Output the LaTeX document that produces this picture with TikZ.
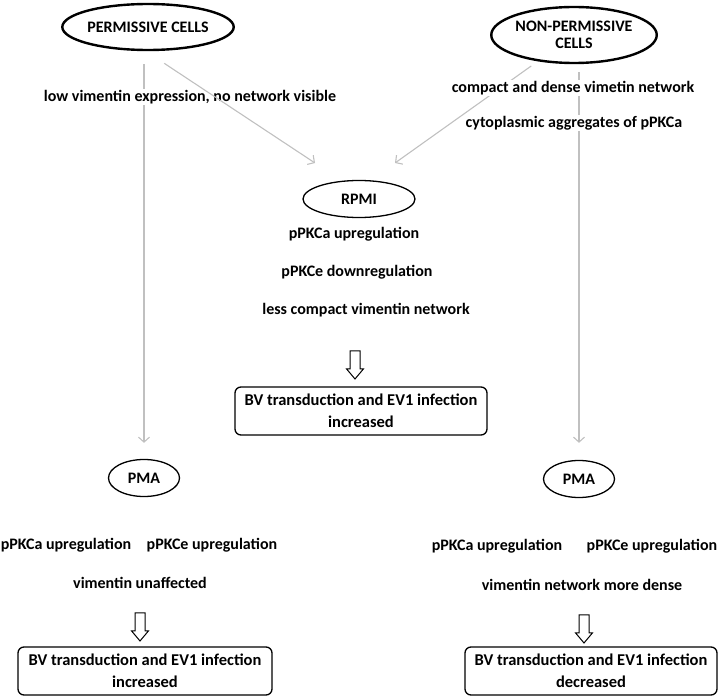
\documentclass[tikz,border=0pt]{standalone}
\usepackage{fontspec}
\setmainfont{Carlito}
\usepackage{tikz}
\usetikzlibrary{
    arrows.meta,
    positioning,
    shapes.geometric,
    shapes.arrows,
    backgrounds
}
\definecolor{lineGray}{RGB}{192,192,192}
\tikzset{
  cell/.style    = {draw, ellipse, line width=2.4pt, align=center,
                    inner sep=0pt, font=\bfseries\fontsize{16}{17}\selectfont},
  treat/.style   = {draw, ellipse, line width=1.3pt, inner sep=0pt,
                    font=\bfseries\fontsize{16}{18}\selectfont},
  txt/.style     = {fill=white, inner sep=1pt,
                    font=\bfseries\fontsize{16}{18}\selectfont},
  result/.style  = {draw, rounded corners=6pt, line width=1.3pt, align=center,
                    minimum height=48pt, inner sep=1pt,
                    font=\bfseries\fontsize{16.5}{22}\selectfont},
  hollow/.style  = {draw, single arrow, shape border rotate=270, line width=1pt,
                    minimum height=28pt, inner sep=4.5pt,
                    single arrow head extend=3.5pt, single arrow tip angle=80},
  arrg/.style    = {-{Straight Barb[length=5pt,width=11pt]}, lineGray, line width=1.1pt}
}

\begin{document}
\begin{tikzpicture}[x=1pt, y=-1pt]
  \useasboundingbox (0,0) rectangle (720,698);

  % ── CELL TYPES ──
  \node[cell, minimum width=170pt, minimum height=46pt] (P_cell) at (148,27) {PERMISSIVE CELLS};
  \node[cell, minimum width=162pt, minimum height=56pt] (N_cell) at (574,35) {NON-PERMISSIVE\\CELLS};

  \node[txt] (P_vim) at (190,97)  {low vimentin expression, no network visible};
  \node[txt] (N_vim) at (573,88)  {compact and dense vimetin network};
  \node[txt] (N_agg) at (574,123) {cytoplasmic aggregates of pPKCa};

  % ── RPMI ──
  \node[treat, minimum width=112pt, minimum height=37pt] (RPMI) at (359,199) {RPMI};
  \node[txt] (R_a)   at (354,234) {pPKCa upregulation};
  \node[txt] (R_e)   at (357,272) {pPKCe downregulation};
  \node[txt] (R_vim) at (366,310) {less compact vimentin network};
  \node[hollow] (R_arr) at (355,362) {};
  \node[result, minimum width=252pt] (R_res) at (361,411) {BV transduction and EV1 infection\\increased};

  \coordinate (R_inL) at (315,163);
  \coordinate (R_inR) at (395,163);

  % ── PMA, permissive ──
  \node[treat, minimum width=71pt, minimum height=37pt] (L_pma) at (144,478) {PMA};
  \node[txt] (L_a)   at (66,545)  {pPKCa upregulation};
  \node[txt] (L_e)   at (212,545) {pPKCe upregulation};
  \node[txt] (L_vim) at (140,583) {vimentin unaffected};
  \node[hollow] (L_arr) at (140,624) {};
  \node[result, minimum width=254pt] (L_res) at (145,671) {BV transduction and EV1 infection\\increased};

  % ── PMA, non-permissive ──
  \node[treat, minimum width=71pt, minimum height=37pt] (N_pma) at (579,479) {PMA};
  \node[txt] (N_a)   at (497,546) {pPKCa upregulation};
  \node[txt] (N_e)   at (652,546) {pPKCe upregulation};
  \node[txt] (N_vim) at (582,585) {vimentin network more dense};
  \node[hollow] (N_arr) at (584,626) {};
  \node[result, minimum width=252pt] (N_res) at (591,671) {BV transduction and EV1 infection\\decreased};

  % connectors behind the labels
  \begin{scope}[on background layer]
    \draw[arrg, shorten <=13pt, shorten >=16pt] (P_cell.south -| L_pma) -- (L_pma.north);
    \draw[arrg, shorten <=8pt, shorten >=17pt] (N_cell.south -| N_pma) -- (N_pma.north);
    \draw[arrg, shorten <=8pt] (N_cell.-144) -- (R_inR);
  \end{scope}
  \draw[arrg, shorten <=22pt] (P_cell.-95) -- (R_inL);
\end{tikzpicture}
\end{document}
